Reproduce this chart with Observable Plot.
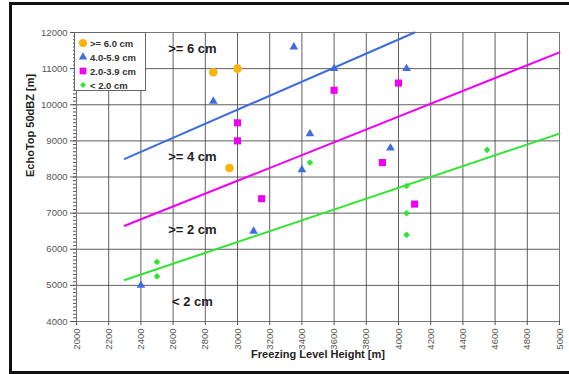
<!DOCTYPE html>
<html>
<head>
<meta charset="utf-8">
<script src="https://cdn.jsdelivr.net/npm/d3@7"></script>
<script src="https://cdn.jsdelivr.net/npm/@observablehq/plot@0.6"></script>
<style>
  html, body { margin: 0; padding: 0; background: #fff; }
  #wrap { position: relative; width: 569px; height: 374px; overflow: hidden; font-family: "Liberation Sans", Arial, sans-serif; }
  #border { position: absolute; left: 9px; top: 2px; width: 580px; height: 366px; border: 3px solid #111; box-sizing: content-box; }
  #legend { position: absolute; left: 74px; top: 32px; width: 72px; height: 59px; background: #fff; border: 1px solid #666; box-sizing: border-box; padding: 3px 0 0 3px; }
  .li { display: flex; align-items: center; height: 14px; font-size: 9.5px; font-weight: bold; color: #333; white-space: nowrap; }
  .li svg { margin-right: 2px; }
  #chart { position: absolute; left: 0; top: 0; }
</style>
</head>
<body>
<div id="wrap">
  <div id="chart"></div>
  <div id="legend"></div>
  <div id="border"></div>
</div>
<script>
// Categories (hail size classes)
const categories = [">= 6.0 cm", "4.0-5.9 cm", "2.0-3.9 cm", "< 2.0 cm"];
const colors = ["#f8b40a", "#3d6ce0", "#f000f0", "#2ee62e"];
const symbols = ["circle", "triangle", "square", "diamond2"];

// Observations: freezing level height (x) and EchoTop 50dBZ (y)
const ge6X = [2850, 3000, 2950];
const ge6Y = [10900, 11000, 8250];
const c4X = [2850, 3350, 3450, 3400, 3600, 4050, 3950, 3100, 2400];
const c4Y = [10100, 11600, 9200, 8200, 11000, 11000, 8800, 6500, 5000];
const c2X = [3000, 3000, 3600, 4000, 3900, 3150, 4100];
const c2Y = [9500, 9000, 10400, 10600, 8400, 7400, 7250];
const lt2X = [3450, 4550, 2500, 2500, 4050, 4050, 4050];
const lt2Y = [8400, 8750, 5650, 5250, 7750, 7000, 6400];

// Separation lines (endpoints in data units)
const blueLineX = [2300, 4100];
const blueLineY = [8500, 12000];
const magentaLineX = [2300, 5000];
const magentaLineY = [6650, 11450];
const greenLineX = [2300, 5000];
const greenLineY = [5150, 9200];

// Zone labels
const zoneText = [">= 6 cm", ">= 4 cm", ">= 2 cm", "< 2 cm"];
const zoneX = [2720, 2720, 2720, 2720];
const zoneY = [11550, 8560, 6530, 4540];

// Ticks
const xTicks = d3.range(2000, 5001, 200);
const yMajor = d3.range(4000, 12001, 1000);
const yMinor = d3.range(4000, 12001, 100);

const xTitle = "Freezing Level Height [m]";
const yTitle = "EchoTop 50dBZ [m]";

const seriesX = [ge6X, c4X, c2X, lt2X];
const seriesY = [ge6Y, c4Y, c2Y, lt2Y];
const sizes = [4.3, 3.2, 4, 3];
const points = [];
seriesX.forEach((xs, i) => xs.forEach((x, j) => points.push({x, y: seriesY[i][j], cat: categories[i], r: sizes[i]})));

const lines = [];
[[blueLineX, blueLineY, colors[1]], [magentaLineX, magentaLineY, colors[2]], [greenLineX, greenLineY, colors[3]]]
  .forEach(([xs, ys, c], k) => xs.forEach((x, j) => lines.push({x, y: ys[j], k, c})));

const zones = zoneText.map((t, i) => ({t, x: zoneX[i], y: zoneY[i]}));

const chart = Plot.plot({
  width: 569,
  height: 374,
  marginLeft: 76,
  marginRight: 10,
  marginTop: 32,
  marginBottom: 53,
  x: {domain: [2000, 5000]},
  y: {domain: [4000, 12000]},
  r: {type: "identity"},
  color: {domain: categories, range: colors},
  symbol: {domain: categories, range: symbols},
  style: {fontFamily: "Liberation Sans, Arial, sans-serif", fontSize: "9.5px", color: "#555", background: "transparent"},
  marks: [
    Plot.gridX(xTicks, {stroke: "#444", strokeOpacity: 0.85}),
    Plot.gridY(yMajor, {stroke: "#444", strokeOpacity: 0.85}),
    Plot.frame({stroke: "#777"}),
    Plot.axisX(xTicks, {tickRotate: -90, tickSize: 4, tickPadding: 3, tickFormat: d3.format("d"), label: null, fill: "#555", stroke: "#555"}),
    Plot.axisY(yMajor, {tickSize: 6, tickPadding: 3, tickFormat: d3.format("d"), label: null, fill: "#555", stroke: "#555"}),
    Plot.axisY(yMinor, {tickSize: 3, tickFormat: () => "", label: null, stroke: "#555"}),
    Plot.line(lines, {x: "x", y: "y", z: "k", stroke: "c", strokeWidth: 2}),
    Plot.dot(points, {x: "x", y: "y", fill: "cat", symbol: "cat", r: "r"}),
    Plot.text(zones, {x: "x", y: "y", text: "t", fontSize: 13, fontWeight: "bold", fill: "#222"}),
    Plot.text([xTitle], {frameAnchor: "bottom", dy: 36, fontSize: 11, fontWeight: "bold", fill: "#222"}),
    Plot.text([yTitle], {frameAnchor: "left", dx: -46, rotate: -90, fontSize: 11, fontWeight: "bold", fill: "#222"})
  ]
});
document.getElementById("chart").appendChild(chart);

// Legend
const legend = document.getElementById("legend");
const sym = {circle: d3.symbolCircle, triangle: d3.symbolTriangle, square: d3.symbolSquare, diamond2: d3.symbolDiamond2};
categories.forEach((c, i) => {
  const row = document.createElement("div");
  row.className = "li";
  const s = d3.create("svg").attr("width", 10).attr("height", 10);
  const size = [50, 30, 45, 22][i];
  s.append("path").attr("transform", "translate(5,5)").attr("d", d3.symbol(sym[symbols[i]], size)()).attr("fill", colors[i]);
  row.appendChild(s.node());
  const t = document.createElement("span");
  t.textContent = c;
  row.appendChild(t);
  legend.appendChild(row);
});
</script>
</body>
</html>
